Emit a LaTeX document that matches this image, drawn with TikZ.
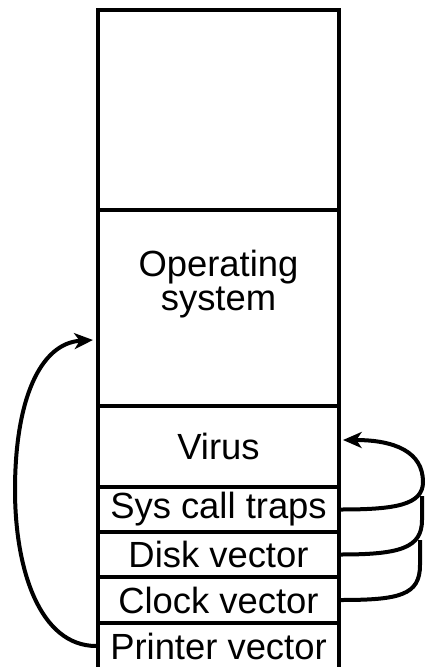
\documentclass[tikz,border=0pt]{standalone}
\usepackage{fontspec}
\setmainfont{Liberation Sans}
\usetikzlibrary{arrows.meta}
\tikzset{
  region/.style={draw, line width=2.7pt, minimum width=180.75pt, inner sep=0pt, font=\fontsize{27.3}{27}\selectfont},
  jump/.style={line width=3pt, -{Stealth[length=14pt,width=12pt,inset=4pt]}},
  link/.style={line width=3pt}
}
\begin{document}
\begin{tikzpicture}[x=0.75pt,y=0.75pt,yscale=-1,xscale=1]
\useasboundingbox (0,0) rectangle (425,667);

% Memory regions
\node [region, minimum height=150pt] (free) at (218.5,110) {};
\node [region, minimum height=147pt] (os) at (218.5,308) {};
\node [region, minimum height=60.75pt] (virus) at (218.5,446.5) {Virus};
\node [region, minimum height=33.75pt] (sys) at (218.5,509.5) {Sys call traps};
\node [region, minimum height=33.75pt] (disk) at (218.5,554.5) {Disk vector};
\node [region, minimum height=34.5pt] (clock) at (218.5,600) {Clock vector};
\node [region, minimum height=34.5pt] (printer) at (218.5,646) {Printer vector};

% Text Node
\node [align=center, font=\fontsize{27.3}{26}\selectfont] (ostext) at (218.5,284) {Operating\\system};

% Arrow ends
\coordinate (osin) at (93,340);
\coordinate (virin) at (343,440);

%Curve Lines
\draw [jump] (printer.west) .. controls (40,646) and (15,570) .. (15,490) .. controls (15,400) and (40,343) .. (osin);
\draw [jump] (sys.east) .. controls (395,509.5) and (423,505) .. (423,482) .. controls (423,452) and (395,440) .. (virin);
\draw [link] (disk.east) .. controls (400,554.5) and (422,548) .. (422,520) -- (422,496);
\draw [link] (clock.east) .. controls (400,600) and (420,595) .. (420,565) -- (420,540);

\end{tikzpicture}
\end{document}
